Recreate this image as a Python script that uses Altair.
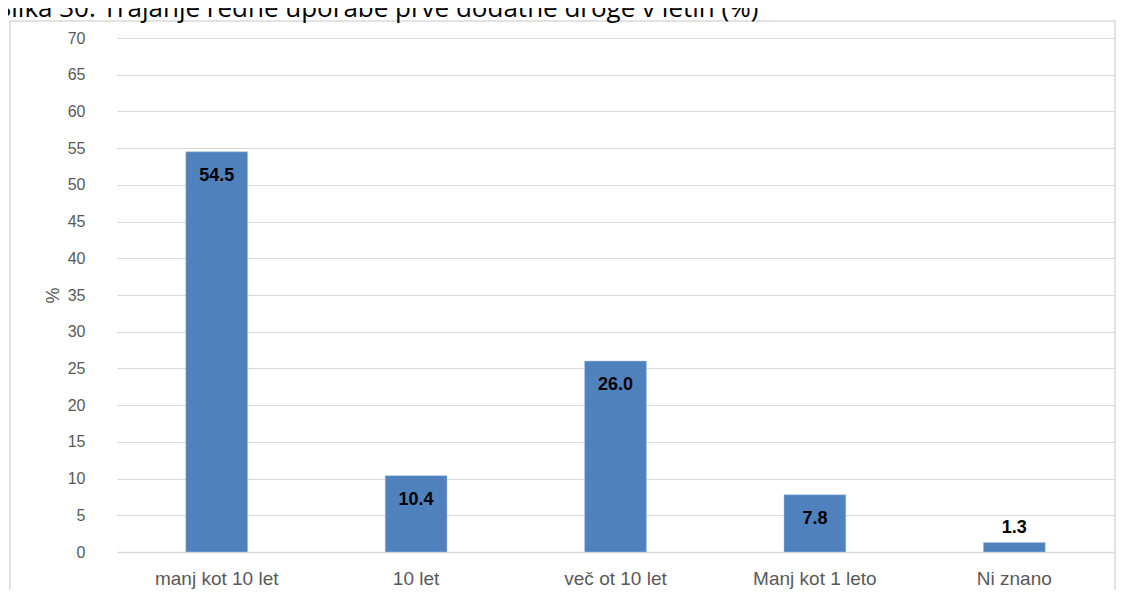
import altair as alt
import pandas as pd

categories = ["manj kot 10 let", "10 let", "več ot 10 let", "Manj kot 1 leto", "Ni znano"]
values = [54.5, 10.4, 26.0, 7.8, 1.3]
y_ticks = list(range(0, 75, 5))
title_text = "Slika 30: Trajanje redne uporabe prve dodatne droge v letih (%)"

df = pd.DataFrame({"cat": categories, "val": values})
df["lab"] = df["val"].map(lambda v: f"{v:.1f}")

W, H = 997, 514

x_scale = alt.Scale(paddingInner=0.69, paddingOuter=0.345)
y_scale = alt.Scale(domain=[0, 70], nice=False)

x_enc = alt.X("cat:N", sort=categories, scale=x_scale,
              axis=alt.Axis(title=None, labelAngle=0, labelFont="Liberation Sans",
                            labelFontSize=19, labelColor="#595959", labelPadding=17,
                            ticks=False, grid=False, domainColor="#d9d9d9", domainWidth=1.5))
y_enc = alt.Y("val:Q", scale=y_scale,
              axis=alt.Axis(title="%", values=y_ticks, labelOverlap=False,
                            labelFont="Liberation Sans",
                            labelFontSize=16, labelColor="#595959", labelPadding=32,
                            ticks=False, domain=False, grid=True, gridColor="#d9d9d9",
                            titleFont="Liberation Sans", titleFontSize=18,
                            titleFontWeight="normal", titleColor="#595959", titlePadding=5))

frame = alt.Chart(pd.DataFrame({"a": [0]})).mark_rect(
    fill=None, fillOpacity=0, stroke="#d9d9d9", strokeWidth=1.5
).encode(x=alt.value(-107), x2=alt.value(998), y=alt.value(-17), y2=alt.value(600))

title = alt.Chart(pd.DataFrame({"t": [title_text]})).mark_text(
    align="left", baseline="alphabetic", font="Open Sans", fontSize=26, color="#000000"
).encode(x=alt.value(-120), y=alt.value(-21), text="t:N")

bars = alt.Chart(df).mark_bar(color="#4f81bd", stroke="#a9c4e4", strokeWidth=0.5).encode(
    x=x_enc, y=y_enc,
)

inside = alt.Chart(df).transform_filter("datum.val >= 5").mark_text(
    baseline="top", dy=15, font="Liberation Sans", fontSize=18, fontWeight="bold", color="#000000"
).encode(x=x_enc, y=y_enc, text="lab:N")

outside = alt.Chart(df).transform_filter("datum.val < 5").mark_text(
    baseline="bottom", dy=-5, font="Liberation Sans", fontSize=18, fontWeight="bold", color="#000000"
).encode(x=x_enc, y=y_enc, text="lab:N")

chart = alt.layer(frame, title, bars, inside, outside).properties(
    width=W, height=H,
    autosize=alt.AutoSizeParams(type="none"),
    padding={"left": 109, "top": 30, "right": 2, "bottom": 38},
).configure_view(stroke=None)

chart.save("out.html", embed_options={"renderer": "svg", "actions": False})
